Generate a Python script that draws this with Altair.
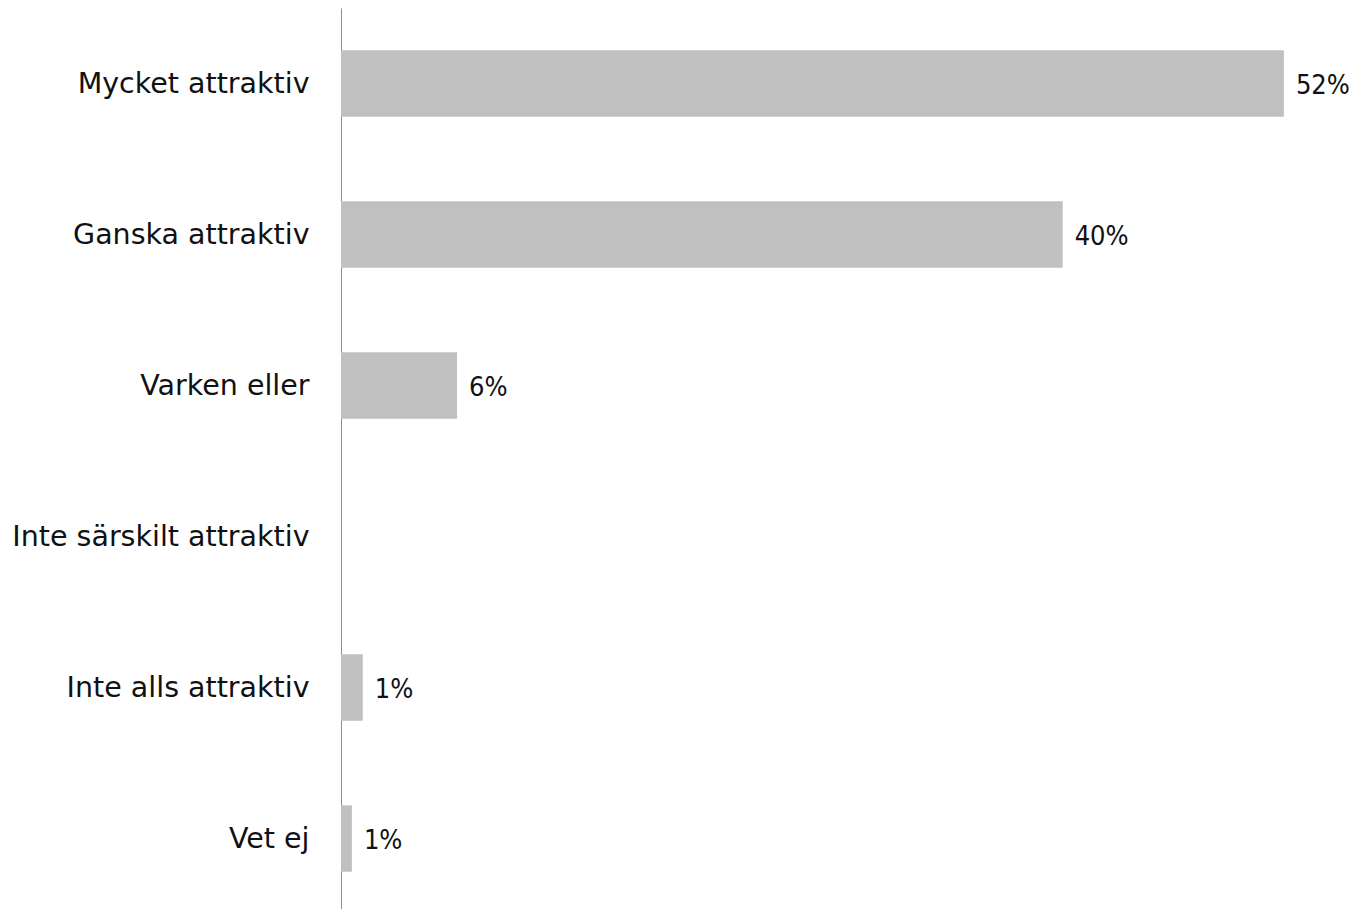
import altair as alt
import pandas as pd

categories = ["Mycket attraktiv", "Ganska attraktiv", "Varken eller",
              "Inte särskilt attraktiv", "Inte alls attraktiv", "Vet ej"]
values = [52.0, 39.8, 6.4, 0.0, 1.2, 0.6]
labels = ["52%", "40%", "6%", "", "1%", "1%"]

df = pd.DataFrame({"cat": categories, "val": values, "lab": labels})

y_enc = alt.Y("cat:N", sort=categories,
              scale=alt.Scale(paddingInner=0.56, paddingOuter=0.28),
              axis=alt.Axis(title=None, ticks=False, labelPadding=32,
                            labelFontSize=28.5, labelFont="DejaVu Sans",
                            labelColor="#111111",
                            labelLimit=400, domainColor="#8c8c8c", domainWidth=1,
                            minExtent=333, maxExtent=333))
x_enc = alt.X("val:Q", scale=alt.Scale(domain=[0, 55.15], nice=False, zero=True),
              axis=None)

bars = alt.Chart(df).mark_bar(color="#c0c0c0").encode(x=x_enc, y=y_enc)
text = alt.Chart(df).mark_text(align="left", baseline="middle", dx=12, dy=2,
                               fontSize=27, font="DejaVu Sans Condensed",
                               color="#111111").encode(
    x=x_enc, y=y_enc, text="lab:N")

chart = (bars + text).properties(width=1000, height=906, padding=0).configure_view(
    strokeWidth=0, stroke=None)

chart.save("out.html", embed_options={"renderer": "svg", "actions": False})
